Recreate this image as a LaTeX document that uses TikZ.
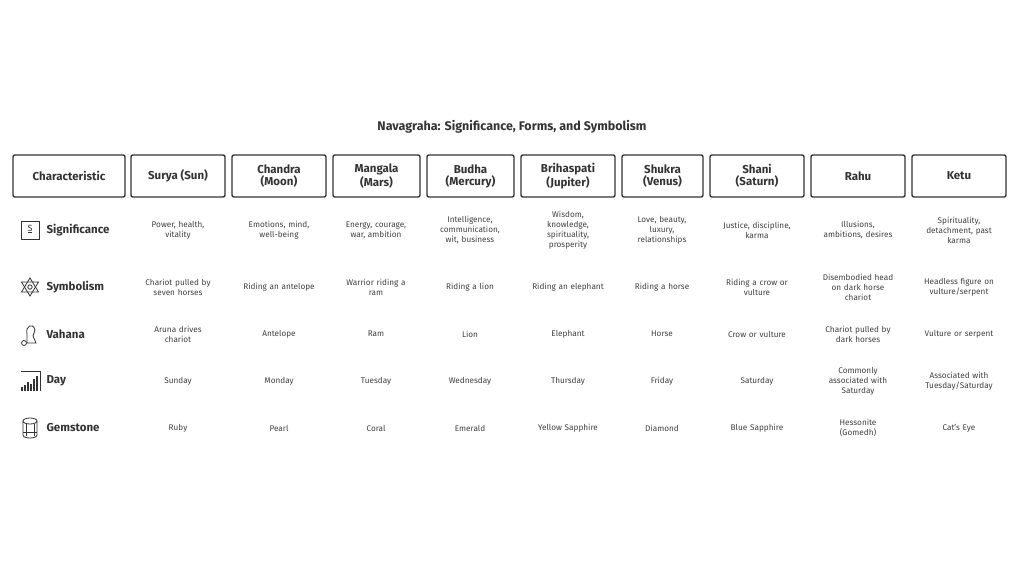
\documentclass[tikz,border=0pt]{standalone}
\usepackage{fontspec}
\setmainfont{Fira Sans}
\usetikzlibrary{positioning}

\begin{document}
\begin{tikzpicture}[x=1pt, y=-1pt,
    hbox/.style={rectangle, draw=black!80, line width=1.4pt, rounded corners=2pt, minimum height=42pt, align=center, font=\fontsize{11.5}{12}\selectfont\bfseries, text=black!80},
    cell/.style={align=center, text width=84pt, font=\fontsize{8.2}{10}\selectfont, text=black!75},
    rowlab/.style={anchor=west, font=\fontsize{11.5}{13}\selectfont\bfseries, text=black!80},
    icon/.style={draw=black!80, line width=0.8pt}
]
    \useasboundingbox (0,0) rectangle (1024,576);

    % Title
    \node[font=\fontsize{12.5}{14}\selectfont\bfseries, text=black!80] (title) at (512,127) {Navagraha: Significance, Forms, and Symbolism};

    % Header boxes
    \foreach \n/\xa/\xb/\t in {hc/13/125/Characteristic, h1/131/225/Surya (Sun), h2/232/326/{Chandra\\(Moon)}, h3/333/420/{Mangala\\(Mars)}, h4/427/514/{Budha\\(Mercury)}, h5/521/615/{Brihaspati\\(Jupiter)}, h6/622/703/{Shukra\\(Venus)}, h7/710/804/{Shani\\(Saturn)}, h8/811/905/Rahu, h9/912/1006/Ketu}
        \node[hbox, minimum width=\xb-\xa] (\n) at ({(\xa+\xb)/2},176) {\t};

    % Row labels
    \node[rowlab] (rsig) at (43,230) {Significance};
    \node[rowlab] (rsym) at (43,287) {Symbolism};
    \node[rowlab] (rvah) at (43,334) {Vahana};
    \node[rowlab] (rday) at (43,381) {Day};
    \node[rowlab] (rgem) at (43,428) {Gemstone};

    % Icons
    \draw[icon] (21,221) rectangle (39,239);
    \node[font=\fontsize{9}{9}\selectfont, text=black!80] (isig) at (30,229) {\underline{S}};
    \draw[icon] (30,278) -- (38.5,292) -- (21.5,292) -- cycle;
    \draw[icon] (30,296) -- (38.5,282) -- (21.5,282) -- cycle;
    \draw[icon] (30,287) circle (2.2);
    \draw[icon] (27,343) -- (27,334) .. controls (25,326) and (33,322) .. (35,330) -- (33,336) -- (36,343) -- cycle;
    \draw[icon] (24,343) circle (2.5);
    \draw[icon] (21,371) -- (40,371) -- (40,391);
    \foreach \bx/\bh in {22/4, 25/6, 28/9, 31/7, 34/12, 37/15}
        \draw[icon, line width=1.2pt] (\bx,391) -- (\bx,391-\bh);
    \draw[icon] (23,421) -- (23,435) .. controls (23,439) and (37,439) .. (37,435) -- (37,421);
    \draw[icon] (30,421) ellipse (7 and 3);
    \draw[icon] (26,424) -- (26,436) (34,424) -- (34,436) (23,432) -- (37,432);

    % Cells
    \foreach \col/\x/\a/\b/\c/\d/\e in {
        1/178/{Power, health,\\vitality}/{Chariot pulled by\\seven horses}/{Aruna drives\\chariot}/Sunday/Ruby,
        2/279/{Emotions, mind,\\well-being}/Riding an antelope/Antelope/Monday/Pearl,
        3/376/{Energy, courage,\\war, ambition}/{Warrior riding a\\ram}/Ram/Tuesday/Coral,
        4/470/{Intelligence,\\communication,\\wit, business}/Riding a lion/Lion/Wednesday/Emerald,
        5/568/{Wisdom,\\knowledge,\\spirituality,\\prosperity}/Riding an elephant/Elephant/Thursday/Yellow Sapphire,
        6/662/{Love, beauty,\\luxury,\\relationships}/Riding a horse/Horse/Friday/Diamond,
        7/757/{Justice, discipline,\\karma}/{Riding a crow or\\vulture}/Crow or vulture/Saturday/Blue Sapphire,
        8/858/{Illusions,\\ambitions, desires}/{Disembodied head\\on dark horse\\chariot}/{Chariot pulled by\\dark horses}/{Commonly\\associated with\\Saturday}/{Hessonite\\(Gomedh)},
        9/959/{Spirituality,\\detachment, past\\karma}/{Headless figure on\\vulture/serpent}/Vulture or serpent/{Associated with\\Tuesday/Saturday}/Cat's Eye}
    {
        \node[cell] (sig\col) at (\x,230) {\a};
        \node[cell] (sym\col) at (\x,287) {\b};
        \node[cell] (vah\col) at (\x,334) {\c};
        \node[cell] (day\col) at (\x,381) {\d};
        \node[cell] (gem\col) at (\x,428) {\e};
    }
\end{tikzpicture}
\end{document}
